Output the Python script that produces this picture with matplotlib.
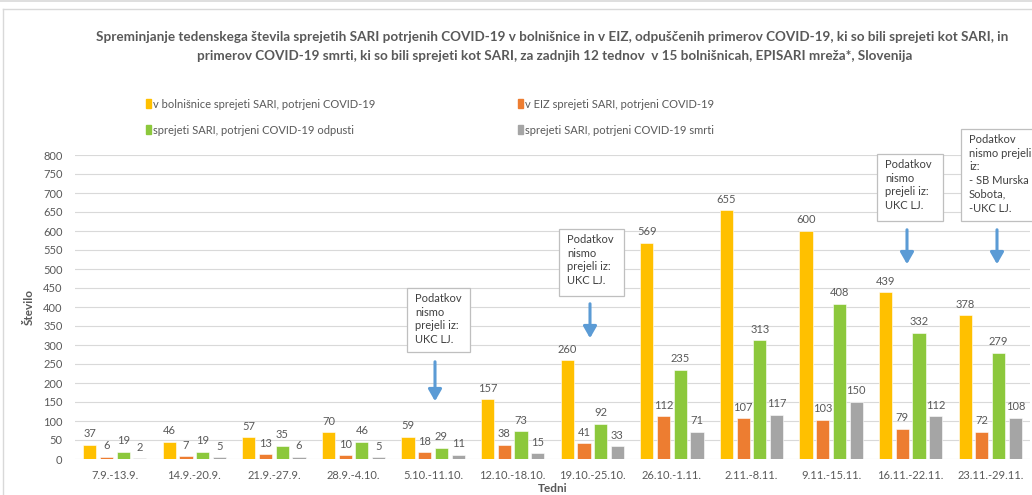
import matplotlib
matplotlib.use("Agg")
import matplotlib.pyplot as plt
from matplotlib.patches import Rectangle, FancyArrowPatch
from matplotlib.lines import Line2D
import numpy as np

plt.rcParams['font.family'] = ['Lato', 'DejaVu Sans']

weeks = ["7.9.-13.9.", "14.9.-20.9.", "21.9.-27.9.", "28.9.-4.10.", "5.10.-11.10.",
         "12.10.-18.10.", "19.10.-25.10.", "26.10.-1.11.", "2.11.-8.11.",
         "9.11.-15.11.", "16.11.-22.11.", "23.11.-29.11."]
hosp = [37, 46, 57, 70, 59, 157, 260, 569, 655, 600, 439, 378]
icu = [6, 7, 13, 10, 18, 38, 41, 112, 107, 103, 79, 72]
discharged = [19, 19, 35, 46, 29, 73, 92, 235, 313, 408, 332, 279]
deaths = [2, 5, 6, 5, 11, 15, 33, 71, 117, 150, 112, 108]

series_names = ["v bolnišnice sprejeti SARI, potrjeni COVID-19",
                "v EIZ sprejeti SARI, potrjeni COVID-19",
                "sprejeti SARI, potrjeni COVID-19 odpusti",
                "sprejeti SARI, potrjeni COVID-19 smrti"]
colors = ["#FFC000", "#ED7D31", "#8CC83C", "#A5A5A5"]

title_lines = ["Spreminjanje tedenskega števila sprejetih SARI potrjenih COVID-19 v bolnišnice in v EIZ, "
               "odpuščenih primerov COVID-19, ki so bili sprejeti kot SARI, in",
               "primerov COVID-19 smrti, ki so bili sprejeti kot SARI, za zadnjih 12 tednov  "
               "v 15 bolnišnicah, EPISARI mreža*, Slovenija"]

notes = [
    ("Podatkov\nnismo\nprejeli iz:\nUKC LJ.", (407, 288, 470, 352), (435, 359, 404)),
    ("Podatkov\nnismo\nprejeli iz:\nUKC LJ.", (559, 229, 624, 296), (590, 301, 341)),
    ("Podatkov\nnismo\nprejeli iz:\nUKC LJ.", (877, 154, 943, 221), (907, 227, 267)),
    ("Podatkov\nnismo prejeli\niz:\n- SB Murska\nSobota,\n-UKC LJ.", (961, 129, 1040, 221), (997, 227, 267)),
]

W, H = 1032, 495
fig = plt.figure(figsize=(W / 100, H / 100), dpi=100)
fig.patch.set_facecolor("white")

def fx(px):
    return px / W

def fy(py):
    return 1 - py / H

# frame lines
fig.add_artist(Line2D([0, 1], [fy(0.5), fy(0.5)], color="#D9D9D9", lw=1.2, transform=fig.transFigure))
fig.add_artist(Line2D([fx(3), 1], [fy(9), fy(9)], color="#D9D9D9", lw=1.0, transform=fig.transFigure))
fig.add_artist(Line2D([fx(3), fx(3)], [fy(9), 0], color="#D9D9D9", lw=1.0, transform=fig.transFigure))

ax = fig.add_axes([fx(75), fy(459), (1030 - 75) / W, 304 / H])
x = np.arange(len(weeks))
step = 0.21
width = 0.165
text_color = "#595959"
all_series = [hosp, icu, discharged, deaths]
for i, (vals, c) in enumerate(zip(all_series, colors)):
    bars = ax.bar(x + (i - 1.5) * step, vals, width=width, color=c, edgecolor="white",
                  linewidth=0.4, zorder=3, label=series_names[i])
    ax.bar_label(bars, labels=[str(v) for v in vals], padding=4, fontsize=8, color=text_color)

ax.set_xlim(-0.5, len(weeks) - 0.5)
ax.set_ylim(0, 800)
ax.set_yticks(np.arange(0, 801, 50))
ax.yaxis.grid(True, color="#D9D9D9", lw=0.8, zorder=0)
ax.set_axisbelow(True)
for s in ax.spines.values():
    s.set_visible(False)
ax.set_xticks(x)
ax.set_xticklabels(weeks)
ax.tick_params(axis="both", length=0, labelsize=8, labelcolor=text_color)
ax.tick_params(axis="y", pad=9)
ax.tick_params(axis="x", pad=8)
ax.set_ylabel("Število", fontsize=8.5, fontweight="bold", color=text_color)
ax.yaxis.set_label_coords(-0.042, 0.5)
ax.set_xlabel("Tedni", fontsize=8.5, fontweight="bold", color=text_color, va="center")
ax.xaxis.set_label_coords(0.5, -(489 - 459) / 304)

fig.text(fx(552), fy(37), title_lines[0], ha="center", va="center", fontsize=9.75, fontweight="bold",
         color=text_color)
fig.text(fx(555), fy(56), title_lines[1], ha="center", va="center", fontsize=9.75, fontweight="bold",
         color=text_color)

# legend (2x2)
leg_pos = [(148, 104), (520, 104), (148, 130), (520, 130)]
for (lx, ly), name, c in zip(leg_pos, series_names, colors):
    fig.add_artist(Rectangle((fx(lx - 2), fy(ly + 4)), 5 / W, 9 / H, color=c, transform=fig.transFigure))
    fig.text(fx(lx + 5), fy(ly), name, ha="left", va="center", fontsize=8, color=text_color)

# annotation boxes and arrows
for txt, (l, t, r, b), (axp, ay0, ay1) in notes:
    fig.add_artist(Rectangle((fx(l), fy(b)), (r - l) / W, (b - t) / H, facecolor="white",
                             edgecolor="#BFBFBF", lw=0.9, transform=fig.transFigure, zorder=5))
    fig.text(fx(l + 8), fy(t + 5), txt, ha="left", va="top", fontsize=8, color="#404040",
             linespacing=1.3, zorder=6)
    fig.add_artist(FancyArrowPatch((fx(axp), fy(ay0)), (fx(axp), fy(ay1)), transform=fig.transFigure,
                                   arrowstyle="-|>,head_length=7,head_width=4", color="#5B9BD5",
                                   lw=2.2, mutation_scale=1, zorder=6))

fig.savefig("out.png", dpi=100)
